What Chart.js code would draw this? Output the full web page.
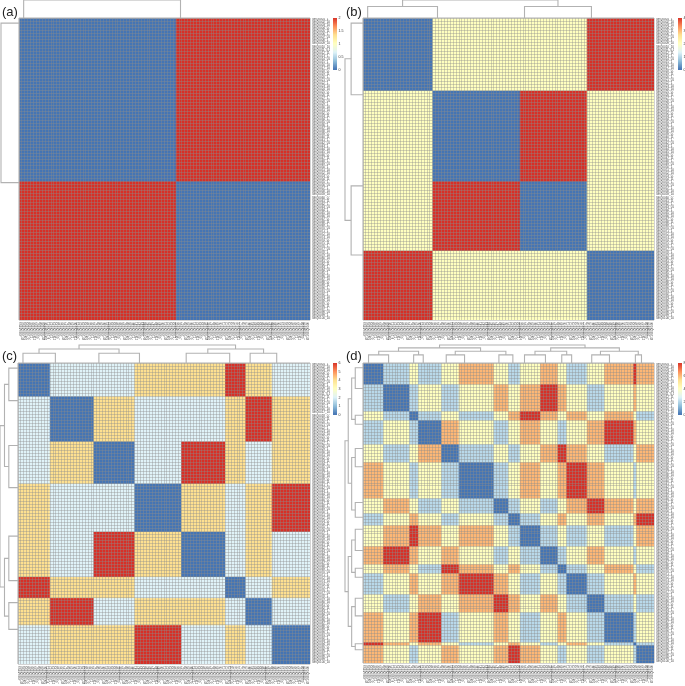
<!DOCTYPE html>
<html>
<head>
<meta charset="utf-8">
<title>Distance heatmaps</title>
<script src="https://cdn.jsdelivr.net/npm/chart.js@4"></script>
<style>
  html, body { margin: 0; padding: 0; background: #fff; }
  body { position: relative; width: 685px; height: 686px; overflow: hidden; }
  canvas { position: absolute; }
  .tag { position: absolute; font: 13px/12px "Liberation Sans", Arial, sans-serif; color: #222; }
</style>
</head>
<body>
<script>
// block sizes are the same along both axes, values are read per block
var blocksA = [54, 46];
var blocksB = [24, 30, 23, 23];
var blocksC = [11, 15, 14, 16, 15, 7, 9, 13];
var blocksD = [7, 9, 3, 8, 6, 12, 5, 4, 7, 6, 3, 7, 6, 10, 1, 6];

var valuesA = [
  [0, 2],
  [2, 0]
];
var valuesB = [
  [0, 2, 2, 4],
  [2, 0, 4, 2],
  [2, 4, 0, 2],
  [4, 2, 2, 0]
];
var valuesC = [
  [0, 2, 2, 4, 4, 6, 4, 2],
  [2, 0, 4, 2, 2, 4, 6, 4],
  [2, 4, 0, 2, 6, 4, 2, 4],
  [4, 2, 2, 0, 4, 2, 4, 6],
  [4, 2, 6, 4, 0, 2, 4, 2],
  [6, 4, 4, 2, 2, 0, 2, 4],
  [4, 6, 2, 4, 4, 2, 0, 2],
  [2, 4, 4, 6, 2, 4, 2, 0]
];
var valuesD = [
  [0, 2, 4, 2, 4, 6, 4, 2, 4, 6, 4, 2, 4, 6, 8, 6],
  [2, 0, 2, 4, 2, 4, 6, 4, 6, 8, 6, 4, 2, 4, 6, 4],
  [4, 2, 0, 2, 4, 2, 4, 6, 8, 6, 4, 6, 4, 6, 4, 2],
  [2, 4, 2, 0, 6, 4, 2, 4, 6, 4, 2, 4, 6, 8, 6, 4],
  [4, 2, 4, 6, 0, 2, 4, 2, 4, 6, 8, 6, 4, 2, 4, 6],
  [6, 4, 2, 4, 2, 0, 2, 4, 6, 4, 6, 8, 6, 4, 2, 4],
  [4, 6, 4, 2, 4, 2, 0, 2, 4, 2, 4, 6, 8, 6, 4, 6],
  [2, 4, 6, 4, 2, 4, 2, 0, 2, 4, 6, 4, 6, 4, 6, 8],
  [4, 6, 8, 6, 4, 6, 4, 2, 0, 2, 4, 2, 4, 2, 4, 6],
  [6, 8, 6, 4, 6, 4, 2, 4, 2, 0, 2, 4, 6, 4, 2, 4],
  [4, 6, 4, 2, 8, 6, 4, 6, 4, 2, 0, 2, 4, 6, 4, 2],
  [2, 4, 6, 4, 6, 8, 6, 4, 2, 4, 2, 0, 2, 4, 6, 4],
  [4, 2, 4, 6, 4, 6, 8, 6, 4, 6, 4, 2, 0, 2, 4, 2],
  [6, 4, 6, 8, 2, 4, 6, 4, 2, 4, 6, 4, 2, 0, 2, 4],
  [8, 6, 4, 6, 4, 2, 4, 6, 4, 2, 4, 6, 4, 2, 0, 2],
  [6, 4, 2, 4, 6, 4, 6, 8, 6, 4, 2, 4, 2, 4, 2, 0]
];

// dendrogram brackets: [leaf pos 1, leaf pos 2, child height 1, child height 2, height]
var colTreeA = [[1.6, 55.5, 0, 0, 1]];
var rowTreeA = [[1.7, 54.5, 0, 0, 1]];
var colTreeB = [[1.6, 25.6, 0, 0, .64], [55.5, 78.5, 0, 0, .64], [13.6, 67, .64, .64, 1]];
var rowTreeB = [[1.7, 25.4, 0, 0, .66], [55.6, 78.5, 0, 0, .66], [13.5, 67, .66, .66, 1]];
var colTreeC = [
  [1.7, 12.8, 0, 0, .54], [27.7, 41.6, 0, 0, .54], [57.6, 72.5, 0, 0, .54], [79.5, 88.6, 0, 0, .54],
  [7.2, 34.6, .54, .54, .78], [65, 84.1, .54, .54, .78],
  [20.9, 74.5, .78, .78, 1]
];
var rowTreeC = [
  [1.7, 12.5, 0, 0, .51], [27.4, 41.4, 0, 0, .51], [57.5, 72.3, 0, 0, .51], [79.6, 88.5, 0, 0, .51],
  [7.1, 34.4, .51, .51, .75], [64.9, 84.1, .51, .51, .75],
  [20.8, 74.4, .75, .75, 1]
];
var colTreeD = [
  [1.9, 8.8, 0, 0, .45], [17.4, 20.7, 0, 0, .45], [28.6, 34.9, 0, 0, .45], [46.7, 51.5, 0, 0, .45],
  [55.5, 62.7, 0, 0, .45], [68.3, 71.7, 0, 0, .45], [78.6, 84.7, 0, 0, .45], [93.6, 95.7, 0, 0, .45],
  [5.4, 19.1, .45, .45, .65], [31.7, 49.1, .45, .45, .65], [59.1, 70, .45, .45, .65], [81.6, 94.6, .45, .45, .65],
  [12.2, 40.4, .65, .65, .84], [64.5, 88.1, .65, .65, .84],
  [26.3, 76.3, .84, .84, 1]
];
var rowTreeD = [
  [1.6, 8.5, 0, 0, .43], [17.4, 20.4, 0, 0, .43], [28.5, 34.6, 0, 0, .43], [46.5, 51.4, 0, 0, .43],
  [55.4, 62.5, 0, 0, .43], [68.4, 71.4, 0, 0, .43], [78.4, 84.3, 0, 0, .43], [93.6, 95.6, 0, 0, .43],
  [5, 18.8, .43, .43, .63], [31.5, 49, .43, .43, .63], [59, 69.8, .43, .43, .63], [81.2, 94.5, .43, .43, .63],
  [11.9, 40.1, .63, .63, .82], [64.5, 87.8, .63, .63, .82],
  [25.9, 76.2, .82, .82, 1]
];

// colour bar ticks
var ticksA = [0, 0.5, 1, 1.5, 2];
var ticksB = [0, 1, 2, 3, 4];
var ticksC = [0, 1, 2, 3, 4, 5, 6];
var ticksD = [0, 2, 4, 6, 8];

// tiny sample names, far too small to read in the source
var nameTails = ['_1', '_10.1', '_100', '_0.1', '_11', '_1.10', '_01'];

var palette = [[69,117,180],[145,191,219],[224,243,248],[255,255,191],[254,224,144],[252,141,89],[215,48,39]];
var GRID = 'rgba(140,140,140,0.38)';
var TREE = '#b2b2b2';
var FONT = '"Liberation Sans", Arial, sans-serif';

Chart.defaults.animation = false;
Chart.defaults.responsive = false;
Chart.defaults.devicePixelRatio = 1;
Chart.defaults.events = [];
Chart.defaults.plugins.legend.display = false;
Chart.defaults.plugins.tooltip.enabled = false;

function rampColor(t) {
  var p = Math.min(t, 1) * (palette.length - 1);
  var i = Math.min(Math.floor(p), palette.length - 2);
  var f = p - i;
  var c = [0, 1, 2].map(function (k) {
    return Math.round(palette[i][k] + (palette[i + 1][k] - palette[i][k]) * f);
  });
  return 'rgb(' + c.join(',') + ')';
}

function addCanvas(left, top, w, h) {
  var c = document.createElement('canvas');
  c.width = w;
  c.height = h;
  c.style.left = left + 'px';
  c.style.top = top + 'px';
  c.style.width = w + 'px';
  c.style.height = h + 'px';
  document.body.appendChild(c);
  return c;
}

function fixSize(prop, size) {
  return function (scale) {
    scale[prop] = size;
    scale.paddingLeft = scale.paddingRight = scale.paddingTop = scale.paddingBottom = 0;
  };
}

function leafBlocks(blocks) {
  var out = [];
  blocks.forEach(function (size, b) {
    for (var i = 0; i < size; i++) out.push(b);
  });
  return out;
}

function sampleName(i) {
  return 'SEQ' + String(i + 1).padStart(4, '0');
}

function heatmap(box, blocks, values, maxValue) {
  var labelSpace = 20;
  var leaves = leafBlocks(blocks);
  var canvas = addCanvas(box.left, box.top, box.w + labelSpace, box.h + labelSpace);

  var datasets = leaves.map(function (rowBlock, r) {
    return {
      data: leaves.map(function () { return [r, r + 1]; }),
      backgroundColor: leaves.map(function (colBlock) {
        return rampColor(values[rowBlock][colBlock] / maxValue);
      }),
      borderWidth: 0,
      grouped: false,
      categoryPercentage: 1,
      barPercentage: 1
    };
  });

  new Chart(canvas, {
    type: 'bar',
    data: {
      labels: leaves.map(function (b, i) { return nameTails[i % nameTails.length] + sampleName(i); }),
      datasets: datasets
    },
    options: {
      layout: { padding: 0 },
      scales: {
        x: {
          position: 'bottom',
          afterFit: fixSize('height', labelSpace),
          border: { display: false },
          grid: { color: GRID, z: 1, drawTicks: false },
          ticks: {
            autoSkip: false, minRotation: 90, maxRotation: 90, padding: 2,
            color: '#444', font: { size: 3, family: FONT }
          }
        },
        y: {
          position: 'right',
          reverse: true,
          min: 0,
          max: leaves.length,
          afterFit: fixSize('width', labelSpace),
          border: { display: false },
          grid: { color: GRID, z: 1, drawTicks: false },
          ticks: {
            stepSize: 1, autoSkip: false, maxTicksLimit: 200, padding: 2,
            labelOffset: box.h / leaves.length / 2,
            color: '#444', font: { size: 3, family: FONT },
            callback: function (v) {
              return v < leaves.length ? sampleName(v) + nameTails[v % nameTails.length] : '';
            }
          }
        }
      }
    }
  });
}

function dendrogram(box, tree, nLeaves, horizontal) {
  var pad = 1;
  var canvas = addCanvas(box.left - pad, box.top - pad, box.w + pad * 2, box.h + pad * 2);
  var toPoint = function (pos, height) {
    return horizontal ? { x: height, y: pos } : { x: pos, y: height };
  };
  var brackets = tree.concat([[0, nLeaves, 0, 0, 0]]);
  var datasets = brackets.map(function (b) {
    return {
      data: [toPoint(b[0], b[2]), toPoint(b[0], b[4]), toPoint(b[1], b[4]), toPoint(b[1], b[3])],
      showLine: true,
      borderColor: TREE,
      borderWidth: 1.1,
      pointRadius: 0,
      clip: false
    };
  });
  var leafAxis = { display: false, min: 0, max: nLeaves, reverse: horizontal };
  var heightAxis = { display: false, min: 0, max: 1, reverse: horizontal };
  new Chart(canvas, {
    type: 'scatter',
    data: { datasets: datasets },
    options: {
      layout: { padding: pad },
      scales: horizontal ? { x: heightAxis, y: leafAxis } : { x: leafAxis, y: heightAxis }
    }
  });
}

function colorBar(box, ticks) {
  var pad = 2, labelSpace = 14, steps = 50;
  var max = ticks[ticks.length - 1];
  var canvas = addCanvas(box.left, box.top - pad, box.w + labelSpace, box.h + pad * 2);
  var datasets = [];
  for (var i = 0; i < steps; i++) {
    datasets.push({
      data: [[max * i / steps, max * (i + 1) / steps + max / 400]],
      backgroundColor: rampColor((i + 0.5) / steps),
      borderWidth: 0,
      grouped: false,
      categoryPercentage: 1,
      barPercentage: 1
    });
  }
  new Chart(canvas, {
    type: 'bar',
    data: { labels: [''], datasets: datasets },
    options: {
      layout: { padding: { top: pad, bottom: pad } },
      scales: {
        x: { display: false },
        y: {
          position: 'right',
          min: 0,
          max: max,
          afterFit: fixSize('width', labelSpace),
          border: { display: false },
          grid: { display: false, drawTicks: false },
          afterBuildTicks: function (axis) {
            axis.ticks = ticks.map(function (v) { return { value: v }; });
          },
          ticks: {
            padding: 1.5, color: '#333', font: { size: 3.6, family: FONT },
            callback: function (v) { return String(v); }
          }
        }
      }
    }
  });
}

function addTag(text, left, top) {
  var d = document.createElement('div');
  d.className = 'tag';
  d.textContent = text;
  d.style.left = left + 'px';
  d.style.top = top + 'px';
  document.body.appendChild(d);
}

function panel(tag, geo, blocks, values, maxValue, colTree, rowTree, ticks) {
  var band = 18;
  var box = { left: geo.left, top: geo.top, w: geo.w, h: geo.h };
  heatmap(box, blocks, values, maxValue);
  dendrogram({ left: geo.left, top: geo.top - band, w: geo.w, h: band }, colTree, 100, false);
  dendrogram({ left: geo.left - band, top: geo.top, w: band, h: geo.h }, rowTree, 100, true);
  colorBar({ left: geo.barLeft, top: geo.top, w: 4, h: 52 }, ticks);
  addTag(tag, geo.tagLeft, geo.tagTop);
}

panel('(a)', { left: 19, top: 18, w: 291, h: 302, barLeft: 333, tagLeft: 2, tagTop: 5.5 },
  blocksA, valuesA, 2, colTreeA, rowTreeA, ticksA);
panel('(b)', { left: 363, top: 18, w: 291, h: 302, barLeft: 678, tagLeft: 346, tagTop: 5.5 },
  blocksB, valuesB, 4, colTreeB, rowTreeB, ticksB);
panel('(c)', { left: 18, top: 363, w: 292, h: 301, barLeft: 333, tagLeft: 2, tagTop: 349.5 },
  blocksC, valuesC, 6, colTreeC, rowTreeC, ticksC);
panel('(d)', { left: 363, top: 363, w: 291, h: 300, barLeft: 678, tagLeft: 346, tagTop: 350 },
  blocksD, valuesD, 8, colTreeD, rowTreeD, ticksD);
</script>
</body>
</html>
